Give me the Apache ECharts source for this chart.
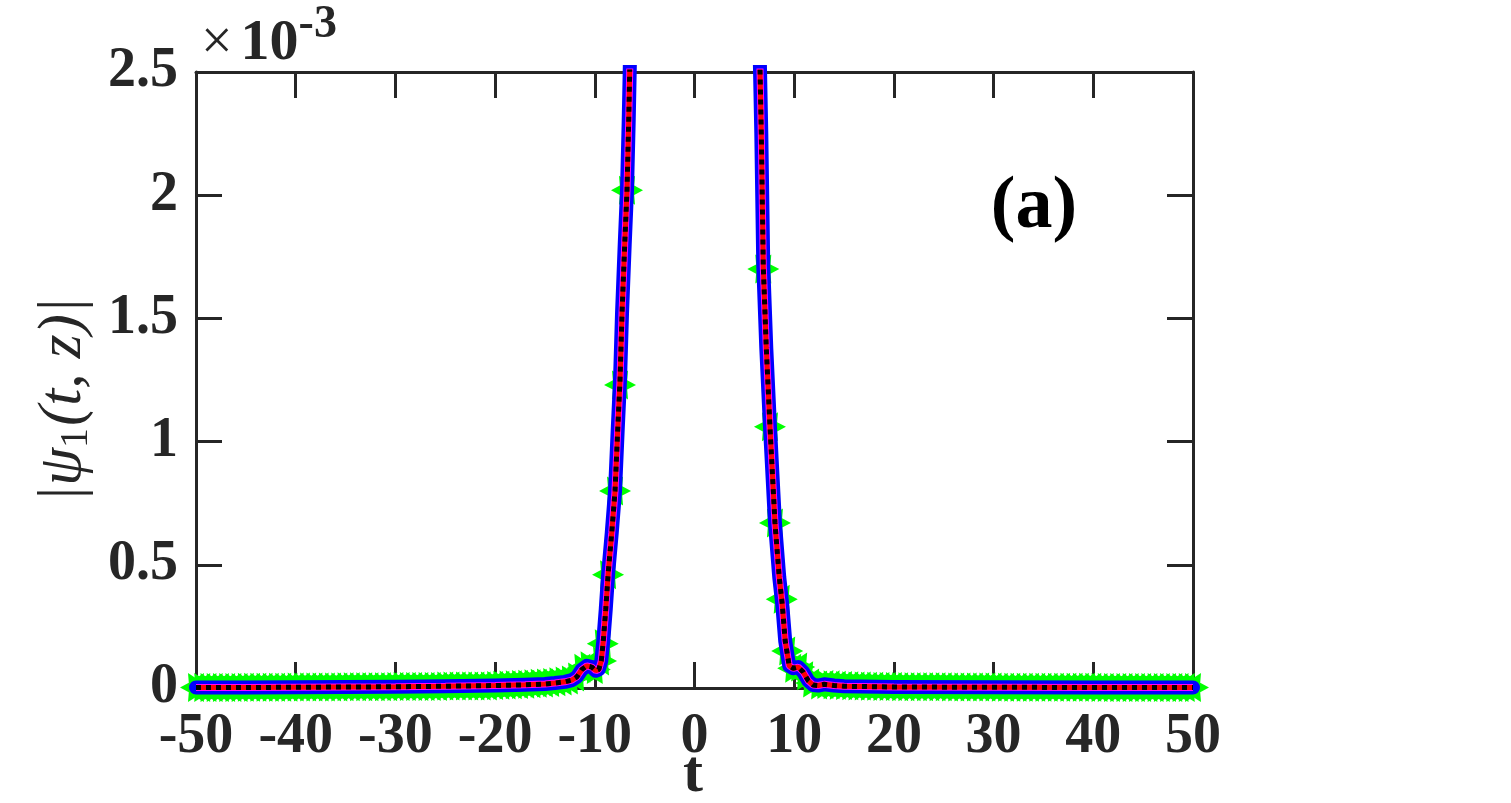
<!DOCTYPE html>
<html>
<head>
<meta charset="utf-8">
<script src="https://cdn.jsdelivr.net/npm/echarts@6/dist/echarts.min.js"></script>
<style>
html, body { margin: 0; padding: 0; background: #fff; }
#chart { width: 1511px; height: 803px; }
</style>
</head>
<body>
<div id="chart"></div>
<script>
// values are in units of 1e-3
var curveT = [-50, -45, -40, -35, -30, -25, -20, -17, -15, -14, -13, -12.3, -11.8, -11.3, -10.8, -10.3,
    -9.9, -9.6, -9.35, -9.15, -8.9, -8.65, -8.3, -7.97, -7.7, -7.47, -7.27, -7.0, -6.77, -6.6, -6.45, -6.2,
    -3, 0, 3,
    6.3, 6.55, 6.7, 6.9, 7.2, 7.57, 8.07, 8.5, 8.8, 9.1, 9.5, 9.9, 10.4, 10.9, 11.4, 11.9, 12.4, 13, 14, 15,
    20, 30, 40, 50];
var curveV = [0.002, 0.002, 0.003, 0.004, 0.005, 0.007, 0.010, 0.013, 0.016, 0.020, 0.025, 0.032, 0.045, 0.075, 0.090, 0.085,
    0.070, 0.075, 0.11, 0.19, 0.32, 0.47, 0.63, 0.80, 1.05, 1.25, 1.52, 1.80, 2.02, 2.30, 2.60, 3.0,
    12, 30, 12,
    3.0, 2.55, 2.25, 1.71, 1.38, 1.06, 0.67, 0.45, 0.34, 0.19, 0.09, 0.08, 0.085, 0.065, 0.03, 0.012, 0.010, 0.015, 0.010, 0.007,
    0.004, 0.003, 0.002, 0.002];

// star markers: flat tails sampled every 0.625 in t, plus the points on the flanks
var starStep = 0.625;
var starLeftV = [0.002, 0.002, 0.002, 0.002, 0.002, 0.002, 0.002, 0.002,
    0.003, 0.003, 0.003, 0.003, 0.003, 0.003, 0.003, 0.003,
    0.004, 0.004, 0.004, 0.004, 0.004, 0.004, 0.004, 0.004,
    0.005, 0.005, 0.005, 0.005, 0.005, 0.005, 0.005, 0.005,
    0.006, 0.006, 0.006, 0.006, 0.006, 0.006, 0.006, 0.006,
    0.008, 0.008, 0.008, 0.008, 0.008, 0.008, 0.008, 0.008,
    0.010, 0.011, 0.012, 0.013, 0.014, 0.015, 0.017, 0.019, 0.020, 0.022, 0.025, 0.028, 0.032];
var starRightV = [0.012, 0.014, 0.013, 0.011, 0.010, 0.009, 0.008, 0.008, 0.007, 0.007, 0.006, 0.006, 0.006,
    0.005, 0.005, 0.005, 0.005, 0.005, 0.005, 0.005, 0.005,
    0.004, 0.004, 0.004, 0.004, 0.004, 0.004, 0.004, 0.004,
    0.003, 0.003, 0.003, 0.003, 0.003, 0.003, 0.003, 0.003,
    0.003, 0.003, 0.003, 0.003, 0.003, 0.003, 0.003, 0.003,
    0.002, 0.002, 0.002, 0.002, 0.002, 0.002, 0.002, 0.002,
    0.002, 0.002, 0.002, 0.002, 0.002, 0.002, 0.002, 0.002];
var starFlankT = [-11.875, -11.25, -10.625, -10.0, -9.375, -9.2, -8.67, -7.97, -7.47, -6.77,
    6.9, 7.57, 8.07, 8.75, 9.3, 9.9, 10.5, 11.1, 11.7];
var starFlankV = [0.045, 0.08, 0.09, 0.075, 0.11, 0.18, 0.46, 0.80, 1.23, 2.02,
    1.70, 1.06, 0.67, 0.36, 0.15, 0.08, 0.085, 0.05, 0.02];

var xTicks = [-50, -40, -30, -20, -10, 0, 10, 20, 30, 40, 50];
var yTicks = [0, 0.5, 1, 1.5, 2, 2.5];

var curve = curveT.map(function (t, i) { return [t, curveV[i]]; });
var stars = [];
starLeftV.forEach(function (v, k) { stars.push([-50 + k * starStep, v]); });
starFlankT.forEach(function (t, i) { stars.push([t, starFlankV[i]]); });
starRightV.forEach(function (v, k) { stars.push([12.5 + k * starStep, v]); });

var ink = '#262626';
var font = '"Liberation Serif", "Times New Roman", serif';
var hexagram = 'path://M20,10 L14.5,12.8 L15,18.66 L10,15.6 L5,18.66 L5.5,12.8 L0,10 L5.5,7.2 L5,1.34 L10,4.4 L15,1.34 L14.5,7.2 Z';

var dom = document.getElementById('chart');
var myChart = echarts.init(dom);

var tickCommon = { inside: true, length: 26, lineStyle: { color: ink, width: 3 } };
var lineCommon = { show: true, onZero: false, lineStyle: { color: ink, width: 3 } };

option = {
    animation: false,
    grid: { left: 196, right: 318, top: 72, bottom: 115 },
    xAxis: [{
        type: 'value', min: -50, max: 50, interval: 10,
        axisLine: lineCommon, axisTick: tickCommon, splitLine: { show: false },
        axisLabel: {
            margin: 22, color: ink, fontFamily: font, fontWeight: 'bold', fontSize: 56,
            formatter: function (v) { return xTicks.indexOf(v) >= 0 ? String(v) : ''; }
        }
    }, {
        type: 'value', position: 'top', min: -50, max: 50, interval: 10,
        axisLine: lineCommon, axisTick: tickCommon, axisLabel: { show: false }, splitLine: { show: false }
    }],
    yAxis: [{
        type: 'value', min: 0, max: 2.5, interval: 0.5,
        axisLine: lineCommon, axisTick: tickCommon, splitLine: { show: false },
        axisLabel: {
            margin: 18, color: ink, fontFamily: font, fontWeight: 'bold', fontSize: 56,
            formatter: function (v) { return yTicks.indexOf(v) >= 0 ? String(v) : ''; }
        }
    }, {
        type: 'value', position: 'right', min: 0, max: 2.5, interval: 0.5,
        axisLine: lineCommon, axisTick: tickCommon, axisLabel: { show: false }, splitLine: { show: false }
    }],
    graphic: [{
        type: 'text', left: 201, top: 2,
        style: {
            text: '{x|×}{n|10}{e|-3}',
            rich: {
                x: { fontFamily: font, fontSize: 56, fill: ink, padding: [16, 8, 0, 0] },
                n: { fontFamily: font, fontWeight: 'bold', fontSize: 58, fill: ink, padding: [16, 0, 0, 0] },
                e: { fontFamily: font, fontWeight: 'bold', fontSize: 46, fill: ink, padding: [0, 0, 22, 0] }
            }
        }
    }, {
        type: 'text', x: 1034, y: 208,
        style: { text: '(a)', fontFamily: font, fontWeight: 'bold', fontSize: 74, fill: '#000', align: 'center', verticalAlign: 'middle' }
    }, {
        type: 'text', x: 693, y: 775,
        style: { text: 't', fontFamily: font, fontWeight: 'bold', fontSize: 60, fill: ink, align: 'center', verticalAlign: 'middle' }
    }, {
        type: 'text', x: 64, y: 400, rotation: Math.PI / 2,
        style: {
            text: '{i||ψ}{s|1}{i|(t, z)|}',
            align: 'center', verticalAlign: 'middle',
            rich: {
                i: { fontFamily: font, fontStyle: 'italic', fontSize: 61, fill: ink },
                s: { fontFamily: font, fontSize: 40, fill: ink, padding: [24, 2, 0, 0] }
            }
        }
    }],
    series: [{
        name: 'stars', type: 'scatter', data: stars, symbol: hexagram, symbolSize: [32, 29],
        itemStyle: { color: '#00ff00', opacity: 1 }, z: 1
    }, {
        name: 'blue', type: 'line', data: curve, showSymbol: false, clip: true,
        lineStyle: { color: '#0000ff', width: 14, cap: 'round', join: 'round' }, z: 2
    }, {
        name: 'magenta', type: 'line', data: curve, showSymbol: false, clip: true,
        lineStyle: { color: '#ff00ff', width: 7 }, z: 3
    }, {
        name: 'red', type: 'line', data: curve, showSymbol: false, clip: true,
        lineStyle: { color: '#ff0000', width: 5 }, z: 4
    }, {
        name: 'black', type: 'line', data: curve, showSymbol: false, clip: true,
        lineStyle: { color: '#000000', width: 5, type: [5, 5], cap: 'butt' }, z: 5
    }]
};

if (option && typeof option === 'object') {
    myChart.setOption(option, true);
}
</script>
</body>
</html>
